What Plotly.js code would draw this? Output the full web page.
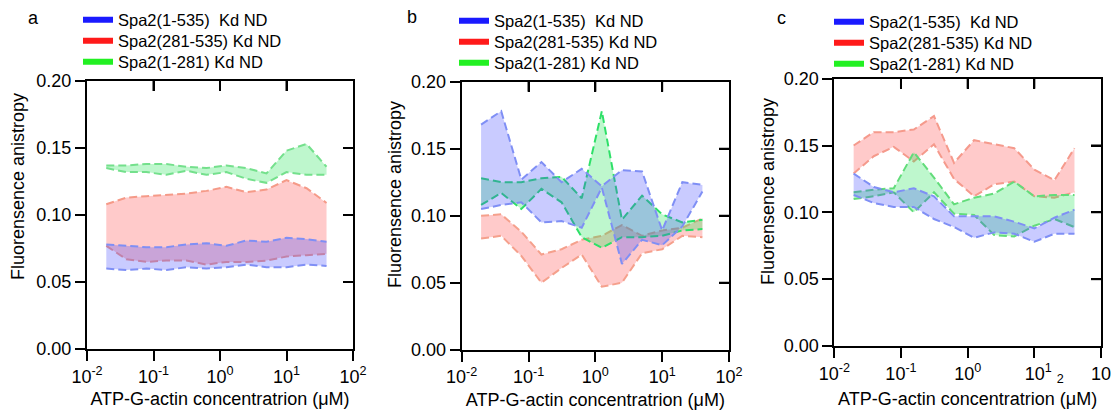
<!DOCTYPE html>
<html>
<head>
<meta charset="utf-8">
<script src="https://cdn.plot.ly/plotly-3.0.1.min.js"></script>
<style>html,body{margin:0;padding:0;background:#fff;}#chart{width:1120px;height:414px;}</style>
</head>
<body>
<div id="chart"></div>
<script>
// ATP-G-actin concentration (uM), 2-fold dilution series
const conc = [0.0195, 0.039, 0.078, 0.156, 0.3125, 0.625, 1.25, 2.5, 5, 10, 20, 40];

const seriesNames = ["Spa2(1-535)  Kd ND", "Spa2(281-535) Kd ND", "Spa2(1-281) Kd ND"];
const panelLetters = ["a", "b", "c"];
const xTitle = "ATP-G-actin concentratrion (\u03bcM)";
const yTitle = "Fluorensence anistropy";
const xTickVals = [0.01, 0.1, 1, 10, 100];
const xTickTextAB = ["10<sup>-2</sup>", "10<sup>-1</sup>", "10<sup>0</sup>", "10<sup>1</sup>", "10<sup>2</sup>"];
const xTickTextC = ["10<sup>-2</sup>", "10<sup>-1</sup>", "10<sup>0</sup>", "\u00a0\u00a0\u00a0\u00a010<sup>1</sup>\u00a0<sub>2</sub>", "10"];
const yTickVals = [0, 0.05, 0.10, 0.15, 0.20];
const yTickText = ["0.00", "0.05", "0.10", "0.15", "0.20"];
const topTickVals = [0.1, 1, 10];
const rightTickVals = [0.05, 0.10, 0.15];

// Panel a: upper / lower bounds of the anisotropy bands
const blueA_hi  = [0.078, 0.077, 0.076, 0.076, 0.078, 0.079, 0.077, 0.081, 0.080, 0.083, 0.082, 0.080];
const blueA_lo  = [0.060, 0.059, 0.060, 0.059, 0.061, 0.060, 0.061, 0.063, 0.061, 0.061, 0.063, 0.062];
const redA_hi   = [0.108, 0.113, 0.114, 0.115, 0.116, 0.118, 0.121, 0.117, 0.119, 0.126, 0.120, 0.109];
const redA_lo   = [0.077, 0.067, 0.065, 0.066, 0.066, 0.063, 0.065, 0.065, 0.066, 0.069, 0.070, 0.071];
const greenA_hi = [0.137, 0.137, 0.138, 0.138, 0.136, 0.135, 0.137, 0.135, 0.131, 0.148, 0.153, 0.136];
const greenA_lo = [0.135, 0.132, 0.132, 0.130, 0.133, 0.130, 0.132, 0.127, 0.124, 0.132, 0.130, 0.130];

// Panel b
const blueB_hi  = [0.168, 0.178, 0.127, 0.140, 0.125, 0.135, 0.122, 0.134, 0.133, 0.089, 0.125, 0.123];
const blueB_lo  = [0.105, 0.108, 0.110, 0.095, 0.096, 0.091, 0.121, 0.064, 0.082, 0.078, 0.092, 0.118];
const redB_hi   = [0.100, 0.101, 0.088, 0.071, 0.075, 0.082, 0.085, 0.093, 0.085, 0.089, 0.091, 0.098];
const redB_lo   = [0.083, 0.085, 0.070, 0.050, 0.061, 0.071, 0.047, 0.050, 0.072, 0.075, 0.085, 0.084];
const greenB_hi = [0.128, 0.125, 0.125, 0.128, 0.129, 0.113, 0.178, 0.097, 0.115, 0.101, 0.095, 0.097];
const greenB_lo = [0.108, 0.117, 0.105, 0.120, 0.110, 0.084, 0.076, 0.084, 0.084, 0.085, 0.089, 0.090];

// Panel c
const blueC_hi  = [0.129, 0.119, 0.115, 0.118, 0.112, 0.097, 0.097, 0.097, 0.093, 0.088, 0.096, 0.102];
const blueC_lo  = [0.113, 0.107, 0.104, 0.104, 0.095, 0.089, 0.081, 0.085, 0.084, 0.078, 0.084, 0.084];
const redC_hi   = [0.150, 0.160, 0.160, 0.162, 0.172, 0.137, 0.154, 0.151, 0.148, 0.132, 0.124, 0.148];
const redC_lo   = [0.129, 0.142, 0.149, 0.138, 0.151, 0.125, 0.112, 0.121, 0.123, 0.112, 0.111, 0.115];
const greenC_hi = [0.115, 0.117, 0.118, 0.145, 0.126, 0.106, 0.111, 0.114, 0.123, 0.112, 0.113, 0.113];
const greenC_lo = [0.110, 0.112, 0.115, 0.100, 0.115, 0.099, 0.098, 0.083, 0.082, 0.090, 0.095, 0.089];

const FONT = "Liberation Sans, Arial, sans-serif";
const W = 1120, H = 414;

const style = {
  red:   {line: ["#f59a88", "#f5a08c", "#f59a8c"], fill: "rgba(255,80,80,0.30)", legend: "#ff1a1a"},
  green: {line: ["#74e08c", "#2ee068", "#62dc7a"], fill: "rgba(40,230,90,0.30)", legend: "#22f022"},
  blue:  {line: ["#7f8ff5", "#7f8ff5", "#7f8ff5"], fill: "rgba(60,70,255,0.28)", legend: "#1a1aff"}
};

const panels = [
  {red: [redA_hi, redA_lo], green: [greenA_hi, greenA_lo], blue: [blueA_hi, blueA_lo]},
  {red: [redB_hi, redB_lo], green: [greenB_hi, greenB_lo], blue: [blueB_hi, blueB_lo]},
  {red: [redC_hi, redC_lo], green: [greenC_hi, greenC_lo], blue: [blueC_hi, blueC_lo]}
];

// pixel boxes of the three plot areas
const boxes = [
  {l: 87,    r: 353,  t: 81,   b: 349},
  {l: 461.7, r: 729,  t: 81.7, b: 349.7},
  {l: 834.3, r: 1101, t: 78.7, b: 346}
];
const legendX = [78, 454, 829];
const legendRowY = [[20, 41, 62], [21, 42, 63], [22, 43, 64]];
const letterPos = [[33, 18], [412, 17], [781, 18]];
const yTitlePos = [[18, 187], [395, 195], [768, 192]];

const data = [];
const layout = {
  width: W, height: H,
  margin: {l: 0, r: 0, t: 0, b: 0},
  paper_bgcolor: "#fff", plot_bgcolor: "rgba(0,0,0,0)",
  font: {family: FONT, size: 18, color: "#000"},
  showlegend: true,
  annotations: [],
  shapes: []
};

let legCount = 0;
panels.forEach((p, i) => {
  const n = i + 1;
  const xa = n === 1 ? "x" : "x" + n;
  const ya = n === 1 ? "y" : "y" + n;
  const xm = "x" + (n + 3), ym = "y" + (n + 3);

  // bands: red, green, blue (blue drawn on top)
  ["red", "green", "blue"].forEach(key => {
    const [hi, lo] = p[key];
    const lc = style[key].line[i];
    data.push({type: "scatter", mode: "lines", x: conc, y: lo, xaxis: xa, yaxis: ya,
      line: {color: lc, width: 2, dash: "8px,4px"}, showlegend: false, hoverinfo: "skip"});
    data.push({type: "scatter", mode: "lines", x: conc, y: hi, xaxis: xa, yaxis: ya,
      fill: "tonexty", fillcolor: style[key].fill,
      line: {color: lc, width: 2, dash: "8px,4px"}, showlegend: false, hoverinfo: "skip"});
  });

  // carriers for the mirrored top / right axes (invisible)
  data.push({type: "scatter", mode: "lines", x: conc, y: p.blue[0], xaxis: xm, yaxis: ya,
    opacity: 0, showlegend: false, hoverinfo: "skip"});
  data.push({type: "scatter", mode: "lines", x: conc, y: p.blue[1], xaxis: xa, yaxis: ym,
    opacity: 0, showlegend: false, hoverinfo: "skip"});

  // legend entries: one legend per row so the rows sit where the reference has them
  [["blue", 0], ["red", 1], ["green", 2]].forEach(([key, k]) => {
    legCount += 1;
    const legId = legCount === 1 ? "legend" : "legend" + legCount;
    data.push({type: "scatter", mode: "lines", x: [null], y: [null], xaxis: xa, yaxis: ya,
      name: seriesNames[k], legend: legId, showlegend: true,
      line: {color: style[key].legend, width: 6}});
    layout[legId] = {
      x: legendX[i] / W, xanchor: "left", y: 1 - legendRowY[i][k] / H, yanchor: "middle",
      bgcolor: "rgba(0,0,0,0)", borderwidth: 0, traceorder: "normal",
      font: {family: FONT, size: 16.5, color: "#000"}
    };
  });

  const bx = boxes[i];
  const xdom = [bx.l / W, bx.r / W];
  const ydom = [(H - bx.b) / H, (H - bx.t) / H];
  const axCommon = {showline: true, linewidth: 2, linecolor: "#000", showgrid: false, zeroline: false,
    ticklen: 10, tickwidth: 2, tickcolor: "#000", tickfont: {family: FONT, size: 18}};
  layout["xaxis" + (n === 1 ? "" : n)] = Object.assign({}, axCommon, {
    domain: xdom, anchor: ya, type: "log", range: [-2, 2], mirror: true,
    tickmode: "array", tickvals: xTickVals, ticktext: n === 3 ? xTickTextC : xTickTextAB,
    ticks: "outside",
    title: {text: xTitle, font: {family: FONT, size: 18}, standoff: 7}
  });
  layout["yaxis" + (n === 1 ? "" : n)] = Object.assign({}, axCommon, {
    domain: ydom, anchor: xa, range: [0, 0.2], mirror: true,
    tickmode: "array", tickvals: yTickVals, ticktext: yTickText,
    ticks: "outside"
  });
  layout["xaxis" + (n + 3)] = {
    overlaying: xa, anchor: ya, side: "top", type: "log", range: [-2, 2],
    showline: true, linewidth: 2, linecolor: "#000", showgrid: false, zeroline: false,
    tickmode: "array", tickvals: topTickVals, ticks: "inside", ticklen: 10, tickwidth: 2, tickcolor: "#000",
    showticklabels: false
  };
  layout["yaxis" + (n + 3)] = {
    overlaying: ya, anchor: xa, side: "right", range: [0, 0.2],
    showline: true, linewidth: 2, linecolor: "#000", showgrid: false, zeroline: false,
    tickmode: "array", tickvals: rightTickVals, ticks: "inside", ticklen: 10, tickwidth: 2, tickcolor: "#000",
    showticklabels: false
  };

  // inward ticks on the mirrored top and right edges, placed through the axes
  topTickVals.forEach(v => {
    layout.shapes.push({type: "line", xref: xa, yref: ya + " domain",
      x0: v, x1: v, ysizemode: "pixel", yanchor: 1, y0: 0, y1: -10,
      line: {color: "#000", width: 2}});
  });
  rightTickVals.forEach(v => {
    layout.shapes.push({type: "line", xref: xa + " domain", yref: ya,
      y0: v, y1: v, xsizemode: "pixel", xanchor: 1, x0: 0, x1: -10,
      line: {color: "#000", width: 2}});
  });

  layout.annotations.push({
    text: panelLetters[i], xref: "paper", yref: "paper",
    x: letterPos[i][0] / W, y: 1 - letterPos[i][1] / H, xanchor: "center", yanchor: "middle",
    showarrow: false, font: {family: FONT, size: 18, color: "#000"}
  });
  layout.annotations.push({
    text: yTitle, xref: "paper", yref: "paper", textangle: -90,
    x: yTitlePos[i][0] / W, y: 1 - yTitlePos[i][1] / H, xanchor: "center", yanchor: "middle",
    showarrow: false, font: {family: FONT, size: 18, color: "#000"}
  });
});

Plotly.newPlot("chart", data, layout, {displayModeBar: false});
</script>
</body>
</html>
